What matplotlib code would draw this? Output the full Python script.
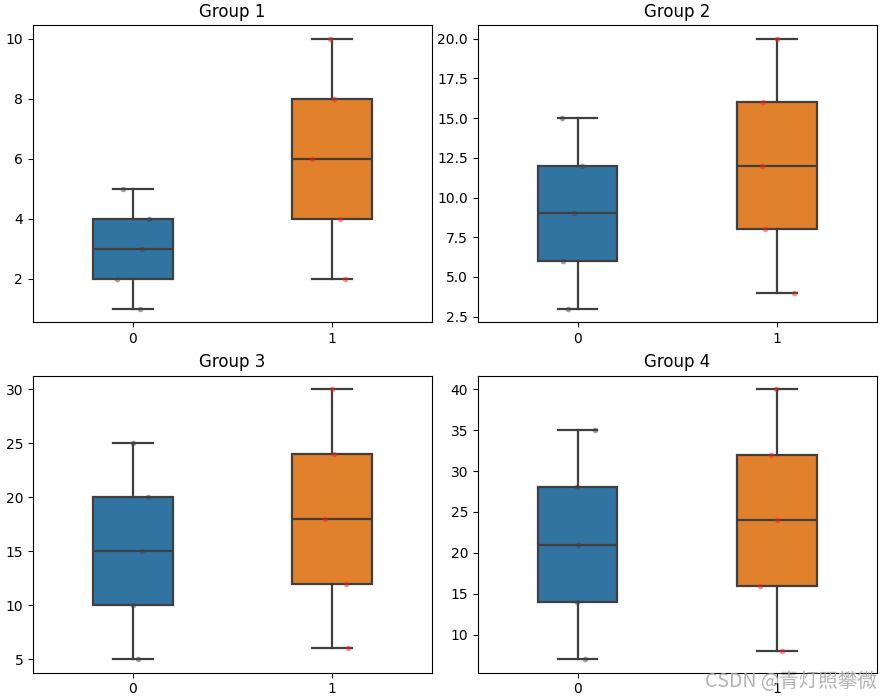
import matplotlib
matplotlib.use("Agg")
import matplotlib.pyplot as plt

# Data for the four groups: two categories each
group_titles = ["Group 1", "Group 2", "Group 3", "Group 4"]
values_a = [
    [1, 2, 3, 4, 5],
    [3, 6, 9, 12, 15],
    [5, 10, 15, 20, 25],
    [7, 14, 21, 28, 35],
]
values_b = [
    [2, 4, 6, 8, 10],
    [4, 8, 12, 16, 20],
    [6, 12, 18, 24, 30],
    [8, 16, 24, 32, 40],
]
# horizontal jitter of the strip points
jitter_a = [
    [0.035, -0.08, 0.045, 0.08, -0.05],
    [-0.05, -0.075, -0.02, 0.02, -0.08],
    [0.025, 0.0, 0.045, 0.075, 0.0],
    [0.035, -0.005, 0.0, -0.005, 0.09],
]
jitter_b = [
    [0.065, 0.04, -0.1, 0.01, -0.01],
    [0.085, -0.06, -0.075, -0.07, 0.0],
    [0.08, 0.07, -0.035, 0.01, 0.0],
    [0.025, -0.085, 0.0, -0.03, -0.005],
]
tick_labels = ["0", "1"]

box_colors = ["#3274a1", "#e1812c"]
point_colors = ["#444444", "#ff2020"]
line_color = "#3f3f3f"

fig, axes = plt.subplots(2, 2, figsize=(8.91, 7.0), dpi=100)
fig.subplots_adjust(left=0.037, right=0.984, top=0.964, bottom=0.039,
                    wspace=0.115, hspace=0.18)

for i, ax in enumerate(axes.flat):
    data = [values_a[i], values_b[i]]
    bp = ax.boxplot(data, positions=[0, 1], widths=0.4, patch_artist=True,
                    showfliers=False,
                    boxprops=dict(edgecolor=line_color, linewidth=1.6),
                    whiskerprops=dict(color=line_color, linewidth=1.6),
                    capprops=dict(color=line_color, linewidth=1.6),
                    medianprops=dict(color=line_color, linewidth=1.6))
    for patch, c in zip(bp["boxes"], box_colors):
        patch.set_facecolor(c)

    # strip points on top
    for pos, (vals, jit, pc) in enumerate(zip(data, [jitter_a[i], jitter_b[i]], point_colors)):
        xs = [pos + j for j in jit]
        ax.scatter(xs, vals, s=16, color=pc, alpha=0.5, linewidths=0, zorder=3)

    ax.set_xlim(-0.5, 1.5)
    ax.set_xticks([0, 1])
    ax.set_xticklabels(tick_labels)
    ax.set_title(group_titles[i], fontsize=12)

# watermark
fig.text(0.984, 0.012, "CSDN @青灯照攀微", ha="right", va="bottom", fontsize=14,
         color="#aaaaaa", alpha=0.9,
         family=["Noto Sans CJK SC", "DejaVu Sans"])

fig.savefig("out.png", dpi=100)
